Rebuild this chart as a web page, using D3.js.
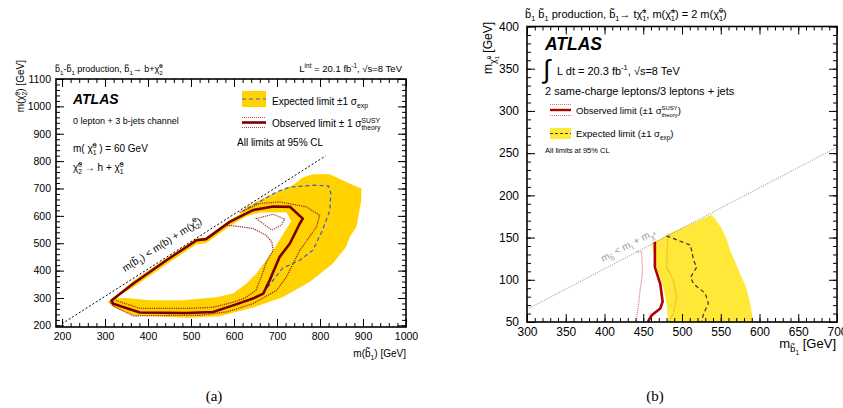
<!DOCTYPE html>
<html>
<head>
<meta charset="utf-8">
<script src="https://cdn.jsdelivr.net/npm/d3@7"></script>
<style>
body{margin:0;background:#fff;}
svg{font-family:"Liberation Sans",Arial,sans-serif;}
.tick line{stroke:#000;stroke-width:1;}
.tick text{fill:#000;}
</style>
</head>
<body>
<svg width="843" height="408"></svg>
<script>
const svg=d3.select('svg');

/* panel (a) data : [m(sbottom), m(chi2)] */
const yellowOuterA=[[307,284],[366,363],[443,446],[513,517],[535,521],[590,585],[613,606],[629,633],[691,682],[737,712],[760,740],[784,752],[823,752],[861,724],[896,700],[896,657],[885,560],[869,523],[861,487],[830,426],[776,358],[714,304],[644,265],[567,233],[490,228],[366,237],[319,267]];
const yellowHoleA=[[323,299],[366,339],[443,423],[513,496],[535,500],[590,562],[629,599],[660,612],[722,613],[733,580],[710,523],[691,474],[675,438],[652,389],[629,353],[598,316],[559,303],[482,292],[404,292],[350,300]];
const expA=[[678,339],[713,409],[753,438],[783,474],[806,548],[823,621],[825,683],[820,709],[788,712],[730,705],[699,688],[660,652],[621,618]];
const obsA=[[315,291],[366,353],[443,438],[513,511],[535,515],[590,578],[644,621],[691,634],[730,633],[760,590],[753,572],[730,499],[706,450],[683,365],[668,316],[644,298],[598,273],[551,249],[490,245],[381,247],[319,279]];
const obsUpA=[[613,613],[660,645],[706,651],[768,633],[799,602],[792,560],[753,474],[722,377],[699,328],[644,279],[583,249],[521,237],[366,235],[319,270],[311,288]];
const obsDnA=[[583,566],[606,562],[644,554],[675,529],[688,504],[691,474],[675,430],[665,383],[651,328],[625,299],[597,284],[551,266],[490,262],[381,262],[325,291]];
const islandA=[[652,590],[691,606],[718,588],[710,566],[688,548]];
const diagA=[[200,206],[813,819]];
const xTicksA=d3.range(200,1001,100), yTicksA=d3.range(200,1101,100);

/* panel (b) data : [m(sbottom), m(chi0)] */
const yellowB=[[461,143],[485,155],[538,177],[543,172],[551,161],[558,147],[562,135],[566,127],[575,107],[583,91],[588,72],[592,50],[482,50],[480,72],[476,91],[467,115]];
const expB=[[480,152],[497,146],[511,141],[515,123],[519,115],[511,103],[515,95],[530,84],[534,72],[528,60],[525,50]];
const obsB=[[465,145],[465,115],[472,95],[475,74],[472,66],[461,58],[457,52],[456,50]];
const obsDnB=[[441,133],[448,133],[449,107],[446,88],[444,72],[441,50]];
const obsUpB=[[482,155],[480,115],[489,99],[493,80],[489,60],[483,50]];
const diagB=[[300,65],[700,257]];
const xTicksB=d3.range(300,701,50), yTicksB=d3.range(50,401,50);

const xa=d3.scaleLinear().domain([186,1000]).range([56,406]);
const ya=d3.scaleLinear().domain([194,1100]).range([327,79]);
const xb=d3.scaleLinear().domain([300,700]).range([527,837]);
const yb=d3.scaleLinear().domain([50,400]).range([322,26.5]);

// rich text: parts are strings or [text, baseline offset em, size factor, dx em]
const S=t=>[t,-0.42,0.68], B=(t,dx)=>[t,0.3,0.68,dx];
function rt(g,x,y,parts,fs){
  const t=g.append('text').attr('x',x).attr('y',y).attr('font-size',fs);
  let cur=0;
  parts.forEach(p=>{
    if(typeof p==='string') p=[p,0,1];
    const off=p[1]*fs;
    const ts=t.append('tspan').attr('dy',off-cur).text(p[0]);
    if(p[2]!==1) ts.attr('font-size',fs*p[2]);
    if(p[3]) ts.attr('dx',p[3]*fs);
    cur=off;
  });
  return t;
}

function frame(x,y,xt,xm,yt,ym,tl,fs,px,py){
  const [x0,x1]=x.range(), [y0,y1]=y.range();
  const g=svg.append('g').attr('font-size',fs);
  const add=(ax,tr)=>{const a=g.append('g').attr('transform',tr).call(ax);a.select('.domain').remove();a.selectAll('text').attr('font-size',fs).attr('font-family','Liberation Sans, Arial, sans-serif');return a;};
  add(d3.axisBottom(x).tickValues(xt).tickSize(-tl).tickPadding(px).tickFormat(d3.format('d')),`translate(0,${y0})`);
  add(d3.axisBottom(x).tickValues(xm).tickSize(-tl/2).tickFormat(''),`translate(0,${y0})`);
  add(d3.axisTop(x).tickValues(xt).tickSize(-tl).tickFormat(''),`translate(0,${y1})`);
  add(d3.axisTop(x).tickValues(xm).tickSize(-tl/2).tickFormat(''),`translate(0,${y1})`);
  add(d3.axisLeft(y).tickValues(yt).tickSize(-tl).tickPadding(py).tickFormat(d3.format('d')),`translate(${x0},0)`);
  add(d3.axisLeft(y).tickValues(ym).tickSize(-tl/2).tickFormat(''),`translate(${x0},0)`);
  add(d3.axisRight(y).tickValues(yt).tickSize(-tl).tickFormat(''),`translate(${x1},0)`);
  add(d3.axisRight(y).tickValues(ym).tickSize(-tl/2).tickFormat(''),`translate(${x1},0)`);
  g.append('rect').attr('x',x0).attr('y',y1).attr('width',x1-x0).attr('height',y0-y1)
    .attr('fill','none').attr('stroke','#000').attr('stroke-width',1.6);
}

/* ---------- panel (a) ---------- */
const la=d3.line().x(d=>xa(d[0])).y(d=>ya(d[1]));
const lac=d3.line().x(d=>xa(d[0])).y(d=>ya(d[1])).curve(d3.curveLinearClosed);
const ga=svg.append('g');
ga.append('path').attr('d',lac(yellowOuterA)+lac(yellowHoleA)).attr('fill','#ffd200').attr('fill-rule','evenodd');
ga.append('path').attr('d',la(expA)).attr('fill','none').attr('stroke','#3a5ad8').attr('stroke-width',1.2).attr('stroke-dasharray','4,3');
[obsUpA,obsDnA].forEach(d=>ga.append('path').attr('d',la(d)).attr('fill','none').attr('stroke','#9c2a2a').attr('stroke-width',1.3).attr('stroke-dasharray','1.2,1'));
ga.append('path').attr('d',lac(islandA)).attr('fill','none').attr('stroke','#a03a3a').attr('stroke-width',1.2).attr('stroke-dasharray','1.2,1');
ga.append('path').attr('d',lac(obsA)).attr('fill','none').attr('stroke','#7a0000').attr('stroke-width',2.6).attr('stroke-linejoin','round');
ga.append('path').attr('d',la(diagA)).attr('fill','none').attr('stroke','#000').attr('stroke-width',1).attr('stroke-dasharray','2,2');

frame(xa,ya,xTicksA,d3.range(200,1001,20),yTicksA,d3.range(200,1101,20),8,10.5,6,5);

rt(svg,55,72,["b̃",B("1"),"-b̃",B("1")," production, b̃",B("1"),"→ b+χ̃",S("0"),B("2",-0.38)],9);
rt(svg,402,72,["L",S("int")," = 20.1 fb",S("-1"),", √s=8 TeV"],9.5).attr('text-anchor','end');
rt(svg.append('g').attr('transform','translate(24,60) rotate(-90)'),0,0,["m(χ̃",S("0"),B("2",-0.38),") [GeV]"],10).attr('text-anchor','end');
rt(svg,406,357,["m(b̃",B("1"),") [GeV]"],10).attr('text-anchor','end');

svg.append('text').attr('x',73).attr('y',104).attr('font-size',14).attr('font-weight','bold').attr('font-style','italic').text('ATLAS');
svg.append('text').attr('x',73).attr('y',124).attr('font-size',9).text('0 lepton + 3 b-jets channel');
rt(svg,73,152,["m( χ̃",S("0"),B("1",-0.38)," ) = 60 GeV"],10);
rt(svg,73,171,["χ̃",S("0"),B("2",-0.38)," → h + χ̃",S("0"),B("1",-0.38)],10);

// legend (a)
svg.append('rect').attr('x',242).attr('y',91).attr('width',24).attr('height',16).attr('fill','#ffd200');
svg.append('line').attr('x1',242).attr('x2',266).attr('y1',99).attr('y2',99).attr('stroke','#3a5ad8').attr('stroke-width',1.2).attr('stroke-dasharray','4,3');
rt(svg,272,105,["Expected limit ±1 σ",B("exp")],10);
[117.5,127.5].forEach(y=>svg.append('line').attr('x1',242).attr('x2',266).attr('y1',y).attr('y2',y).attr('stroke','#c04848').attr('stroke-width',1).attr('stroke-dasharray','1,1'));
svg.append('line').attr('x1',242).attr('x2',266).attr('y1',122.5).attr('y2',122.5).attr('stroke','#7a0000').attr('stroke-width',2.6);
rt(svg,272,127,["Observed limit ± 1 σ",S("SUSY"),B("theory",-1.85)],10);
svg.append('text').attr('x',237).attr('y',146).attr('font-size',10).text('All limits at 95% CL');

// diagonal label (a)
const angA=Math.atan2(ya(diagA[1][1])-ya(diagA[0][1]),xa(diagA[1][0])-xa(diagA[0][0]))*180/Math.PI;
rt(svg.append('g').attr('transform',`translate(125,272) rotate(${angA})`),0,0,["m(b̃",B("1"),") < m(b) + m(χ̃",S("0"),B("2",-0.38),")"],10);

/* ---------- panel (b) ---------- */
const lb=d3.line().x(d=>xb(d[0])).y(d=>yb(d[1]));
const lbc=d3.line().x(d=>xb(d[0])).y(d=>yb(d[1])).curve(d3.curveLinearClosed);
const gb=svg.append('g');
gb.append('path').attr('d',lbc(yellowB)).attr('fill','#ffe838');
gb.append('path').attr('d',lb(diagB)).attr('fill','none').attr('stroke','#999').attr('stroke-width',1).attr('stroke-dasharray','1.2,1.2');
gb.append('path').attr('d',lb(expB)).attr('fill','none').attr('stroke','#333').attr('stroke-width',1.2).attr('stroke-dasharray','4,3');
gb.append('path').attr('d',lb(obsDnB)).attr('fill','none').attr('stroke','#e07070').attr('stroke-width',1.2).attr('stroke-dasharray','1,1');
gb.append('path').attr('d',lb(obsUpB)).attr('fill','none').attr('stroke','#e89a30').attr('stroke-width',1.2).attr('stroke-dasharray','1,1');
gb.append('path').attr('d',lb(obsB)).attr('fill','none').attr('stroke','#b00000').attr('stroke-width',2.6);

frame(xb,yb,xTicksB,d3.range(300,701,10),yTicksB,d3.range(50,401,10),8,12,5,8);

rt(svg,525,18,["b̃",B("1")," b̃",B("1")," production, b̃",B("1"),"→ tχ̃",S("±"),B("1",-0.39),", m(χ̃",S("±"),B("1",-0.39),") = 2 m(χ̃",S("0"),B("1",-0.38),")"],11);
rt(svg.append('g').attr('transform','translate(492,22) rotate(-90)'),0,0,["m",["χ̃",0.3,0.75],["0",-0.05,0.5],["1",0.55,0.5,-0.28],[" [GeV]",0,1]],12).attr('text-anchor','end');
rt(svg,836,348,["m",["b̃",0.3,0.75],["1",0.55,0.5],[" [GeV]",0,1]],13).attr('text-anchor','end');

svg.append('text').attr('x',545).attr('y',50).attr('font-size',17.5).attr('font-weight','bold').attr('font-style','italic').text('ATLAS');
svg.append('text').attr('x',543).attr('y',78).attr('font-size',26).text('∫');
rt(svg,557,75,["L dt = 20.3 fb",S("-1"),", √s=8 TeV"],11);
svg.append('text').attr('x',545).attr('y',95).attr('font-size',11).text('2 same-charge leptons/3 leptons + jets');

// legend (b)
[104.5,115.5].forEach(y=>svg.append('line').attr('x1',550).attr('x2',571).attr('y1',y).attr('y2',y).attr('stroke','#e07070').attr('stroke-width',1).attr('stroke-dasharray','1,1'));
svg.append('line').attr('x1',550).attr('x2',571).attr('y1',110).attr('y2',110).attr('stroke','#b00000').attr('stroke-width',2.4);
rt(svg,576,114,["Observed limit (±1 σ",["SUSY",-0.42,0.62],["theory",0.3,0.62,-1.69],[")",0,1]],9.5);
svg.append('rect').attr('x',550).attr('y',128).attr('width',21).attr('height',11).attr('fill','#ffe838');
svg.append('line').attr('x1',550).attr('x2',571).attr('y1',133.5).attr('y2',133.5).attr('stroke','#333').attr('stroke-width',1.2).attr('stroke-dasharray','3,2');
rt(svg,576,137,["Expected limit (±1 σ",B("exp"),[")",0,1]],9.5);
svg.append('text').attr('x',545).attr('y',153).attr('font-size',7.5).text('All limits at 95% CL');

const angB=Math.atan2(yb(diagB[1][1])-yb(diagB[0][1]),xb(diagB[1][0])-xb(diagB[0][0]))*180/Math.PI;
rt(svg.append('g').attr('transform',`translate(603,262) rotate(${angB})`).attr('fill','#999'),0,0,["m",["b̃",0.3,0.7],[" < m",0,1],["t",0.3,0.7],[" + m",0,1],["χ̃",0.3,0.7],["±",0,0.5]],10);

// captions
svg.append('text').attr('x',214).attr('y',401).attr('font-size',15).attr('font-family','Liberation Serif, Times New Roman, serif').attr('text-anchor','middle').text('(a)');
svg.append('text').attr('x',655).attr('y',401).attr('font-size',15).attr('font-family','Liberation Serif, Times New Roman, serif').attr('text-anchor','middle').text('(b)');
</script>
</body>
</html>
